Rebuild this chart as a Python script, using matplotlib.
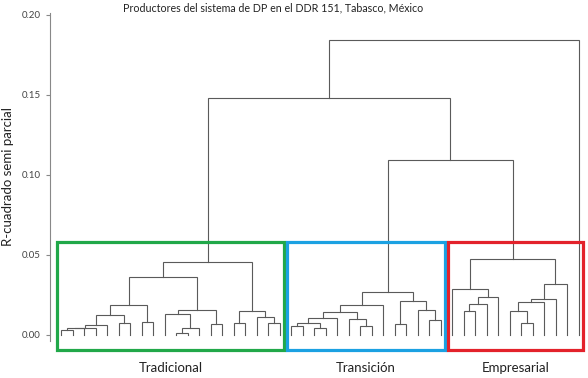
import matplotlib
matplotlib.use("Agg")
import matplotlib.pyplot as plt
from matplotlib.patches import Rectangle

plt.rcParams['font.family'] = ['Lato', 'DejaVu Sans']

# Dendrogram data: nested merges (height, left, right); P = one producer (leaf)
P = 'p'

tradicional_tree = (0.0458,
                    (0.036,
                     (0.019,
                      (0.0125,
                       (0.0062, (0.0046, (0.0042, (0.003, P, P), P), P), P),
                       (0.0073, P, P)),
                      (0.0079, P, P)),
                     (0.0156,
                      (0.013, P, (0.0046, (0.001, P, P), P)),
                      (0.0069, P, P))),
                    (0.0152,
                     (0.0073, P, P),
                     (0.011, P, (0.0073, P, P))))

transicion_tree = (0.0266,
                   (0.0188,
                    (0.0142,
                     (0.0104, (0.0073, (0.0056, P, P), (0.0042, P, P)), P),
                     (0.010, P, (0.0056, P, P))),
                    P),
                   (0.0215,
                    (0.0069, P, P),
                    (0.0156, P, (0.0094, P, P))))

empresarial_tree = (0.0475,
                    (0.029, P, (0.0235, (0.0194, (0.015, P, P), P), P)),
                    (0.032, (0.0223, (0.0208, (0.0152, P, (0.0073, P, P)), P), P), P))

# upper merges
h_trans_emp = 0.109
h_trad_rest = 0.148
h_top = 0.184

full_tree = (h_top, (h_trad_rest, tradicional_tree, (h_trans_emp, transicion_tree, empresarial_tree)), P)

cluster_names = ['Tradicional', 'Transición', 'Empresarial']
cluster_trees = [tradicional_tree, transicion_tree, empresarial_tree]
cluster_colors = ['#21a849', '#1ba1e2', '#e3222b']

yticks = [0.00, 0.05, 0.10, 0.15, 0.20]


def n_leaves(node):
    if node == P:
        return 1
    return n_leaves(node[1]) + n_leaves(node[2])


fig = plt.figure(figsize=(5.88, 3.78), dpi=100)
ax = fig.add_axes([0.085, 0.063, 0.915, 0.902])

counter = [0]
line_color = '#5a5a5a'


def draw(node):
    if node == P:
        x = counter[0]
        counter[0] += 1
        return x, 0.0
    h, left, right = node
    xl, hl = draw(left)
    xr, hr = draw(right)
    ax.plot([xl, xl, xr, xr], [hl, h, h, hr], color=line_color, lw=0.8,
            solid_joinstyle='miter')
    return (xl + xr) / 2.0, h


draw(full_tree)
total = counter[0]

# coloured boxes round each group (the last box also takes the lone producer)
box_top = 0.058
box_bottom = -0.0095
start = 0
for i, (name, tree, col) in enumerate(zip(cluster_names, cluster_trees, cluster_colors)):
    n = n_leaves(tree)
    end = start + n - 1
    if i == len(cluster_trees) - 1:
        end = total - 1
    x0 = start - 0.35
    x1 = end + 0.35
    ax.add_patch(Rectangle((x0, box_bottom), x1 - x0, box_top - box_bottom,
                           fill=False, edgecolor=col, lw=2.3, clip_on=False,
                           zorder=3))
    ax.text((x0 + x1) / 2, -0.0205, name, ha='center', va='center',
            fontsize=9.5, color='#222222', clip_on=False)
    start += n

ax.set_xlim(-0.96, 45.8)
ax.set_ylim(-0.012, 0.201)
ax.set_yticks(yticks)
ax.set_yticklabels(['%.2f' % t for t in yticks])
ax.set_xticks([])
for s in ['top', 'right', 'bottom']:
    ax.spines[s].set_visible(False)
ax.spines['left'].set_color('#888888')
ax.spines['left'].set_linewidth(0.8)
ax.spines['left'].set_bounds(-0.004, 0.201)
ax.tick_params(axis='y', colors='#888888', labelcolor='#444444',
               labelsize=7, length=3, width=0.8)
ax.set_ylabel('R-cuadrado semi parcial', fontsize=9.5, color='#222222')
ax.yaxis.set_label_coords(-0.066, 0.52)

fig.text(0.464, 0.979, 'Productores del sistema de DP en el DDR 151, Tabasco, México',
         ha='center', va='center', fontsize=7.7, color='#222222')

fig.savefig('out.png', dpi=100)
